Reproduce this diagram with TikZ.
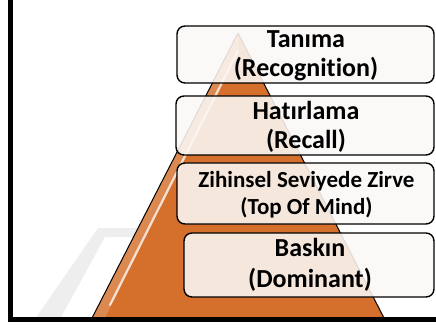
\documentclass[tikz,border=0pt]{standalone}
\usepackage{fontspec}
\setmainfont{Carlito}[Ligatures=NoCommon]
\definecolor{pyrorange}{HTML}{D4702B}
\definecolor{boxfill}{HTML}{FBF8F6}
\definecolor{wmgray}{HTML}{EEEEEE}
\tikzset{
  level/.style={draw=black, line width=1.4pt, rounded corners=8pt, fill=boxfill, fill opacity=0.88, text opacity=1},
  lbl/.style={font=\bfseries\fontsize{26}{29.5}\selectfont, align=center, text=black, inner sep=0pt}
}
\begin{document}
\begin{tikzpicture}[x=1pt,y=1pt]
\useasboundingbox (0,0) rectangle (436,327);
% faint background watermark
\fill[wmgray] (35,8) -- (98,99) -- (190,99) -- (190,90) -- (105,90) -- (60,8) -- cycle;
% pyramid
\coordinate (apex) at (238,294);
\coordinate (bl) at (91,7);
\coordinate (br) at (385,7);
\fill[pyrorange] (apex) -- (br) -- (bl) -- cycle;
% gloss
\fill[white, opacity=0.18] (238,294) -- (91,7) -- (104,7) -- (238,276) -- cycle;
\draw[white, opacity=0.75, line width=2.2pt, line cap=round] (110,22) -- (238,276);
\draw[black, line width=1pt] (apex) -- (br) (apex) -- (bl);
% frame
\draw[black, line width=5pt] (10.5,7.5) rectangle (445,330);
% level boxes
\path[level] (177,244) rectangle (434,301);
\path[level] (176,172) rectangle (434,231);
\path[level] (177,103) rectangle (434,164);
\path[level] (184,30) rectangle (434,94);
\node[lbl] (l1) at (306,271) {Tanıma\\(Recognition)};
\node[lbl] (l2) at (306,200) {Hatırlama\\(Recall)};
\node[lbl, font=\bfseries\fontsize{23}{27}\selectfont] (l3) at (306.5,132.5) {Zihinsel Seviyede Zirve\\(Top Of Mind)};
\node[lbl, font=\bfseries\fontsize{26}{31}\selectfont] (l4) at (310,62) {Baskın\\(Dominant)};
\end{tikzpicture}
\end{document}
